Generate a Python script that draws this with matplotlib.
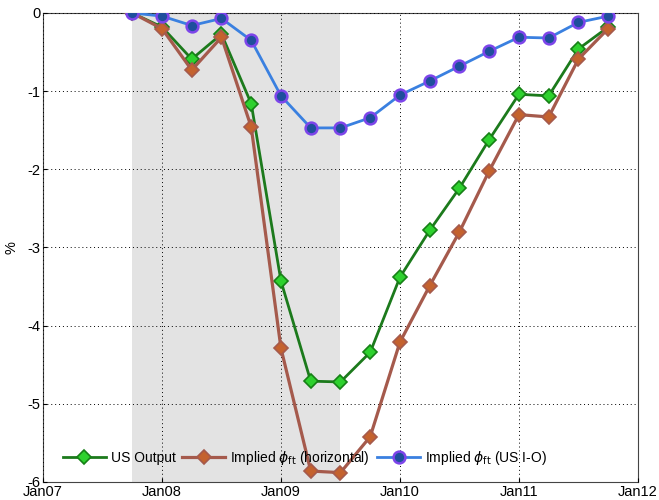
import matplotlib
matplotlib.use("Agg")
import matplotlib.pyplot as plt

plt.rcParams["font.family"] = ["Liberation Sans", "DejaVu Sans"]

quarters = ["2007Q4", "2008Q1", "2008Q2", "2008Q3", "2008Q4", "2009Q1", "2009Q2", "2009Q3",
            "2009Q4", "2010Q1", "2010Q2", "2010Q3", "2010Q4", "2011Q1", "2011Q2", "2011Q3", "2011Q4"]
us_output = [0, -0.18, -0.59, -0.27, -1.16, -3.43, -4.71, -4.72, -4.34, -3.38, -2.78, -2.24,
             -1.62, -1.04, -1.06, -0.46, -0.18]
implied_horizontal = [0, -0.20, -0.73, -0.31, -1.46, -4.29, -5.86, -5.88, -5.42, -4.21, -3.49,
                      -2.80, -2.02, -1.30, -1.33, -0.59, -0.20]
implied_io = [0, -0.04, -0.16, -0.07, -0.35, -1.06, -1.47, -1.47, -1.34, -1.05, -0.87, -0.68,
              -0.49, -0.31, -0.32, -0.12, -0.04]
xtick_labels = ["Jan07", "Jan08", "Jan09", "Jan10", "Jan11", "Jan12"]
ytick_values = [0, -1, -2, -3, -4, -5, -6]
recession = ("2007Q4", "2009Q3")


def qnum(q):
    # Quarter start month expressed as a decimal year (Q1 -> Jan, Q4 -> Oct)
    return int(q[:4]) + (int(q[-1]) - 1) / 4.0


x = [qnum(q) for q in quarters]

fig = plt.figure(figsize=(6.59, 5.0), dpi=100)
ax = fig.add_axes([0.0653, 0.036, 0.9027, 0.938])

ax.axvspan(qnum(recession[0]), qnum(recession[1]), color="#e3e3e3", zorder=0, lw=0)

ax.plot(x, us_output, color="#1c7a1c", lw=2, marker="D", ms=7,
        mfc="#2ed12e", mec="#168016", mew=1.2, label="US Output", zorder=3)
ax.plot(x, implied_horizontal, color="#a55a4c", lw=2.3, marker="D", ms=7,
        mfc="#c4622e", mec="#a55a4c", mew=1.2,
        label=r"Implied $\phi_{\mathrm{ft}}$ (horizontal)", zorder=3)
ax.plot(x, implied_io, color="#3a80e0", lw=2, marker="o", ms=8.5,
        mfc="#1e4f9c", mec="#7d45ea", mew=1.8,
        label=r"Implied $\phi_{\mathrm{ft}}$ (US I-O)", zorder=4)

years = [2007 + i for i in range(len(xtick_labels))]
ax.set_xlim(years[0], years[-1])
ax.set_ylim(-6, 0)
ax.set_xticks(years)
ax.set_xticklabels(xtick_labels, fontsize=10.5)
ax.set_yticks(ytick_values)
ax.set_yticklabels([str(v) for v in ytick_values], fontsize=10.5)
ax.tick_params(direction="in", length=3, pad=2)
ax.grid(True, color="black", linestyle=(0, (1, 3)), lw=0.7)
ax.set_axisbelow(False)
for s in ax.spines.values():
    s.set_color("#444444")
    s.set_linewidth(0.8)
ax.set_ylabel("%", fontsize=10.5, labelpad=6)

leg = ax.legend(loc="lower left", bbox_to_anchor=(0.012, 0.006), ncol=3, frameon=False,
                fontsize=10, handlelength=3.1, columnspacing=0.5, handletextpad=0.35)

fig.savefig("out.png", dpi=100)
